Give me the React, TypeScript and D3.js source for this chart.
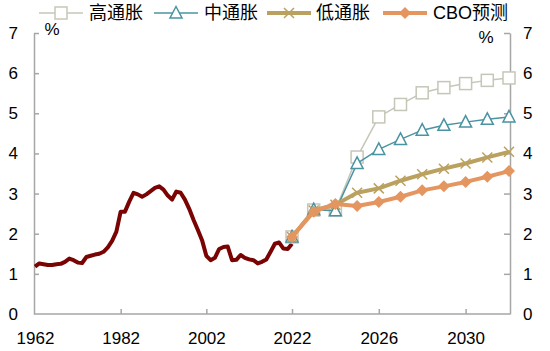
import React, { useRef, useEffect } from "react";
import * as d3 from "d3";

// historical 1962-2022 (%)
const histYears = d3.range(1962, 2023);
const histValues = [
  1.18, 1.26, 1.24, 1.22, 1.22, 1.24, 1.25, 1.3, 1.38, 1.34,
  1.28, 1.27, 1.42, 1.45, 1.48, 1.5, 1.55, 1.66, 1.82, 2.05,
  2.55, 2.55, 2.8, 3.02, 2.98, 2.92, 2.98, 3.06, 3.14, 3.18,
  3.1, 2.95, 2.85, 3.05, 3.02, 2.85, 2.62, 2.35, 2.1, 1.84,
  1.45, 1.34, 1.4, 1.62, 1.67, 1.68, 1.34, 1.35, 1.47, 1.4,
  1.36, 1.34, 1.26, 1.3, 1.36, 1.55, 1.75, 1.78, 1.63, 1.62,
  1.75,
];

// scenarios 2022-2032
const fcYears = d3.range(2022, 2033);
const highValues = [1.92, 2.59, 2.59, 3.91, 4.91, 5.22, 5.51, 5.64, 5.74, 5.82, 5.88];
const midValues = [1.92, 2.6, 2.57, 3.75, 4.1, 4.35, 4.58, 4.7, 4.78, 4.85, 4.91];
const lowValues = [1.92, 2.58, 2.72, 3.02, 3.13, 3.32, 3.48, 3.62, 3.75, 3.9, 4.04];
const cboValues = [1.92, 2.55, 2.74, 2.69, 2.79, 2.92, 3.08, 3.18, 3.29, 3.42, 3.56];

const xTicks = [1962, 1982, 2002, 2022, 2026, 2030];
const yTicks = [0, 1, 2, 3, 4, 5, 6, 7];

const FONT = "'Liberation Sans', Arial, 'Noto Sans CJK SC', sans-serif";
const AXIS = "#a6a6a6";

const series = [
  { name: "高通胀", values: highValues, color: "#c6c6b8", width: 1.5, marker: "square", lx: 39, tx: 89 },
  { name: "中通胀", values: midValues, color: "#4a93a2", width: 1.5, marker: "triangle", lx: 154, tx: 204 },
  { name: "低通胀", values: lowValues, color: "#bba160", width: 4, marker: "cross", lx: 267, tx: 316 },
  { name: "CBO预测", values: cboValues, color: "#e5955f", width: 4, marker: "diamond", lx: 383, tx: 433 },
];

const drawMarker = (g, type, color, cx, cy) => {
  if (type === "square") {
    g.append("rect")
      .attr("x", cx - 6).attr("y", cy - 6).attr("width", 12).attr("height", 12)
      .attr("fill", "#fff").attr("stroke", color).attr("stroke-width", 1.5);
  } else if (type === "triangle") {
    g.append("path")
      .attr("d", `M${cx},${cy - 6.5}L${cx + 6},${cy + 5}L${cx - 6},${cy + 5}Z`)
      .attr("fill", "#fff").attr("stroke", color).attr("stroke-width", 1.5);
  } else if (type === "cross") {
    g.append("path")
      .attr("d", `M${cx - 5},${cy - 5}L${cx + 5},${cy + 5}M${cx - 5},${cy + 5}L${cx + 5},${cy - 5}`)
      .attr("stroke", color).attr("stroke-width", 1.5);
  } else {
    g.append("path")
      .attr("d", `M${cx},${cy - 6}L${cx + 6},${cy}L${cx},${cy + 6}L${cx - 6},${cy}Z`)
      .attr("fill", color);
  }
};

const App = () => {
  const svgRef = useRef(null);

  useEffect(() => {
    const svg = d3.select(svgRef.current);
    svg.selectAll("*").remove();

    const x = d3.scaleLinear().domain([1962, 2022, 2032]).range([35, 292, 509]);
    const y = d3.scaleLinear().domain([0, 7]).range([314, 33]);

    // axes
    const yl = svg.append("g").attr("transform", "translate(34,0)")
      .call(d3.axisLeft(y).tickValues(yTicks).tickFormat(d3.format("d")).tickSizeInner(-5).tickSizeOuter(0).tickPadding(16));
    const yr = svg.append("g").attr("transform", "translate(510,0)")
      .call(d3.axisRight(y).tickValues(yTicks).tickFormat(d3.format("d")).tickSizeInner(-6).tickSizeOuter(0).tickPadding(13));
    const xa = svg.append("g").attr("transform", "translate(0,314)")
      .call(d3.axisBottom(x).tickValues(xTicks).tickFormat(d3.format("d")).tickSizeInner(-5).tickSizeOuter(0).tickPadding(18));
    xa.select(".domain").attr("d", "M34,0H510");
    xa.selectAll(".tick").filter((d) => d === 1962).select("line").remove();
    [yl, yr, xa].forEach((g) => {
      g.attr("font-family", FONT).attr("font-size", 17);
      g.selectAll(".domain, .tick line").attr("stroke", AXIS).attr("stroke-width", 1.5);
      g.selectAll("text").attr("fill", "#000");
    });
    yl.selectAll(".tick").filter((d) => d === 0).select("line").remove();
    yr.selectAll(".tick").filter((d) => d === 0).select("line").remove();

    svg.append("text").attr("x", 52).attr("y", 35).attr("text-anchor", "middle")
      .attr("font-family", FONT).attr("font-size", 17).text("%");
    svg.append("text").attr("x", 486).attr("y", 43).attr("text-anchor", "middle")
      .attr("font-family", FONT).attr("font-size", 17).text("%");

    // historical
    const histLine = d3.line().x((d, i) => x(histYears[i])).y((d) => y(d));
    svg.append("path").datum(histValues).attr("d", histLine)
      .attr("fill", "none").attr("stroke", "#7a0404").attr("stroke-width", 4)
      .attr("stroke-linejoin", "round");

    // scenarios
    const fcLine = d3.line().x((d, i) => x(fcYears[i])).y((d) => y(d));
    series.forEach((s) => {
      const g = svg.append("g");
      g.append("path").datum(s.values).attr("d", fcLine)
        .attr("fill", "none").attr("stroke", s.color).attr("stroke-width", s.width)
        .attr("stroke-linejoin", "round");
      s.values.forEach((v, i) => drawMarker(g, s.marker, s.color, x(fcYears[i]), y(v)));
    });

    // legend
    const legend = svg.append("g");
    series.forEach((s) => {
      legend.append("line").attr("x1", s.lx).attr("x2", s.lx + 44)
        .attr("y1", 13).attr("y2", 13).attr("stroke", s.color).attr("stroke-width", s.width);
      drawMarker(legend, s.marker, s.color, s.lx + 22, 13);
      legend.append("text").attr("x", s.tx).attr("y", 13).attr("dy", "0.35em")
        .attr("font-family", FONT).attr("font-size", 18).text(s.name);
    });
  }, []);

  return (
    <svg
      ref={svgRef}
      width={550}
      height={351}
      style={{ position: "absolute", left: 0, top: 0, background: "#fff" }}
    />
  );
};

export default App;
